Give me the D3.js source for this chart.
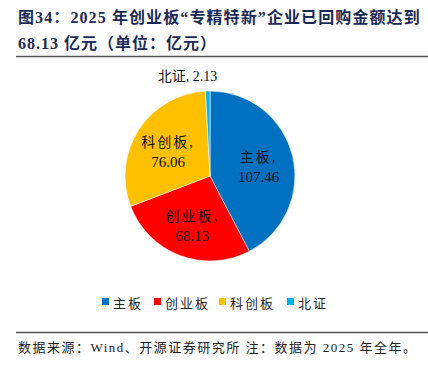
<!DOCTYPE html>
<html>
<head>
<meta charset="utf-8">
<script src="https://cdn.jsdelivr.net/npm/d3@7"></script>
<style>
  body { margin: 0; background: #fff; }
  svg { display: block; }
  text { font-family: "Times New Roman", "Liberation Serif", "Noto Sans CJK SC", serif; }
</style>
</head>
<body>
<div id="chart"></div>
<script>
const categories = ["主板", "创业板", "科创板", "北证"];
const values = [107.46, 68.13, 76.06, 2.13];
const colors = ["#0070C0", "#FF0000", "#FFC000", "#00B0F0"];

const W = 428, H = 372;
const svg = d3.select("#chart").append("svg").attr("width", W).attr("height", H);

// title
const titleColor = "#1A2A55";
svg.append("text").attr("x", 18).attr("y", 23)
  .attr("fill", titleColor).attr("font-weight", "bold").style("font-size", "16px")
  .style("letter-spacing", "1.1px")
  .text("图34：2025 年创业板“专精特新”企业已回购金额达到");
svg.append("text").attr("x", 18).attr("y", 49)
  .attr("fill", titleColor).attr("font-weight", "bold").style("font-size", "16px")
  .style("letter-spacing", "1px")
  .text("68.13 亿元（单位：亿元）");
svg.append("line").attr("x1", 16).attr("x2", 428).attr("y1", 56.5).attr("y2", 56.5)
  .attr("stroke", "#555").attr("stroke-width", 1.5);

// pie
const cx = 210, cy = 176, r = 85;
const g = svg.append("g").attr("transform", `translate(${cx},${cy})`);
const data = categories.map((c, i) => ({ name: c, value: values[i], color: colors[i] }));
const pie = d3.pie().sort(null).value((d) => d.value);
const arcs = pie(data);
const arc = d3.arc().innerRadius(0).outerRadius(r);
const labelArc = d3.arc().innerRadius(50).outerRadius(50);

g.selectAll("path").data(arcs).join("path")
  .attr("d", arc).attr("fill", (d) => d.data.color)
  .attr("stroke", "#fff").attr("stroke-width", 0.6);

const inner = arcs.filter((d) => d.data.name !== "北证");
const lbl = g.selectAll("g.lbl").data(inner).join("g").attr("class", "lbl")
  .attr("transform", (d) => {
    const [x, y] = labelArc.centroid(d);
    return `translate(${x},${y})`;
  });
lbl.append("text").attr("text-anchor", "middle").attr("y", -2)
  .style("font-size", "14px").attr("fill", "#111")
  .style("letter-spacing", "2px")
  .text((d) => d.data.name + ",");
lbl.append("text").attr("text-anchor", "middle").attr("y", 18)
  .style("font-size", "15px").attr("fill", "#111")
  .text((d) => d3.format(".2f")(d.data.value));

const outer = arcs.filter((d) => d.data.name === "北证");
const outerArc = d3.arc().innerRadius(r + 10).outerRadius(r + 10);
g.selectAll("text.out").data(outer).join("text").attr("class", "out")
  .attr("transform", (d) => `translate(${outerArc.centroid(d)})`)
  .attr("x", -20).attr("y", 0)
  .attr("text-anchor", "middle").style("font-size", "14px").attr("fill", "#111")
  .text((d) => d.data.name + ", " + d3.format(".2f")(d.data.value));

// legend
const legend = svg.append("g").attr("transform", "translate(102,303)");
const xs = [0, 52, 117, 185];
data.forEach((d, i) => {
  const row = legend.append("g").attr("transform", `translate(${xs[i]},0)`);
  row.append("rect").attr("x", 0).attr("y", -5).attr("width", 7).attr("height", 7).attr("fill", d.color);
  row.append("text").attr("x", 11).attr("y", 2).attr("dominant-baseline", "middle")
    .style("font-size", "13px").style("letter-spacing", "2px").attr("fill", "#222").text(d.name);
});

// footer
svg.append("line").attr("x1", 16).attr("x2", 428).attr("y1", 332.5).attr("y2", 332.5)
  .attr("stroke", "#555").attr("stroke-width", 1.5);
svg.append("text").attr("x", 18).attr("y", 352).style("font-size", "13px").attr("fill", "#222")
  .style("letter-spacing", "1.5px")
  .text("数据来源：Wind、开源证券研究所  注：数据为 2025 年全年。");
</script>
</body>
</html>
